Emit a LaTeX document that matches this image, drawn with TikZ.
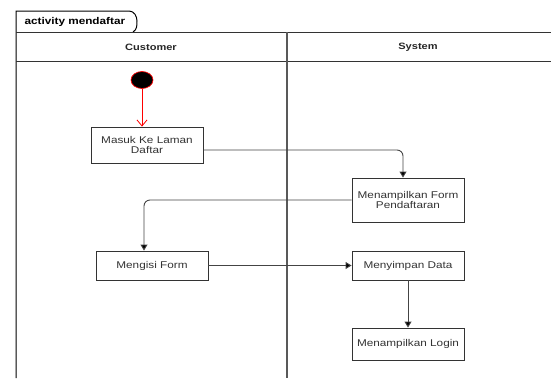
\documentclass[tikz,border=0pt]{standalone}
\usepackage{fontspec}
\setmainfont[FakeStretch=1.2]{Liberation Sans}
\usetikzlibrary{arrows.meta,shapes.geometric}
\definecolor{boxline}{HTML}{333333}
\definecolor{txt}{HTML}{333333}
\definecolor{conn}{HTML}{444444}
\tikzset{
  actbox/.style={draw=boxline, line width=0.9pt, fill=white, minimum width=112pt, inner sep=1pt,
    align=center, font=\fontsize{9.8}{10.8}\selectfont, text=txt},
  flow/.style={draw=conn, line width=0.9pt, rounded corners=6pt, -{Triangle[length=6pt,width=7pt,fill=black]}},
  lane/.style={line width=1pt},
  hdr/.style={font=\bfseries\fontsize{9.2}{10}\selectfont, text=black!85}
}
\begin{document}
\begin{tikzpicture}[x=1pt,y=-1pt]
\useasboundingbox (0,0) rectangle (551,378);
% frame
\draw[lane] (16,378) -- (16,11) -- (129,11) to[out=0,in=90] (137,21) to[out=-90,in=30] (133,32);
\draw[lane, draw=black!80] (16,32) -- (551,32);
\draw[lane, draw=black!80] (16,61) -- (551,61);
\draw[line width=1.3pt, draw=black!65] (287,32) -- (287,378);
\node[font=\bfseries\fontsize{9.8}{10}\selectfont, anchor=west] (title) at (21,21.5) {activity mendaftar};
\node[hdr] (cust) at (151,47) {Customer};
\node[hdr] (sys) at (418,47) {System};
% nodes
\node[draw=red, fill=black, ellipse, minimum width=22pt, minimum height=17pt, inner sep=0pt, line width=0.7pt] (init) at (142,80) {};
\node[actbox, minimum height=36pt] (masuk) at (147,145) {Masuk Ke Laman\\Daftar};
\node[actbox, minimum height=44pt] (form) at (408,200) {Menampilkan Form\\Pendaftaran};
\node[actbox, minimum height=29pt] (isi) at (152,265.5) {Mengisi Form};
\node[actbox, minimum height=29pt] (simpan) at (408,265.5) {Menyimpan Data};
\node[actbox, minimum height=32pt] (login) at (408,344) {Menampilkan Login};
% connectors
\draw[red, line width=0.8pt, -{Straight Barb[length=6pt,width=10pt]}] (init.south) -- (init.south |- masuk.north);
\draw[flow] ([yshift=-5pt]masuk.east) -| ([xshift=-5pt]form.north);
\draw[flow] (form.west) -| ([xshift=-8pt]isi.north);
\draw[flow] (isi.east) -- (simpan.west);
\draw[flow] (simpan.south) -- (login.north);
\end{tikzpicture}
\end{document}
